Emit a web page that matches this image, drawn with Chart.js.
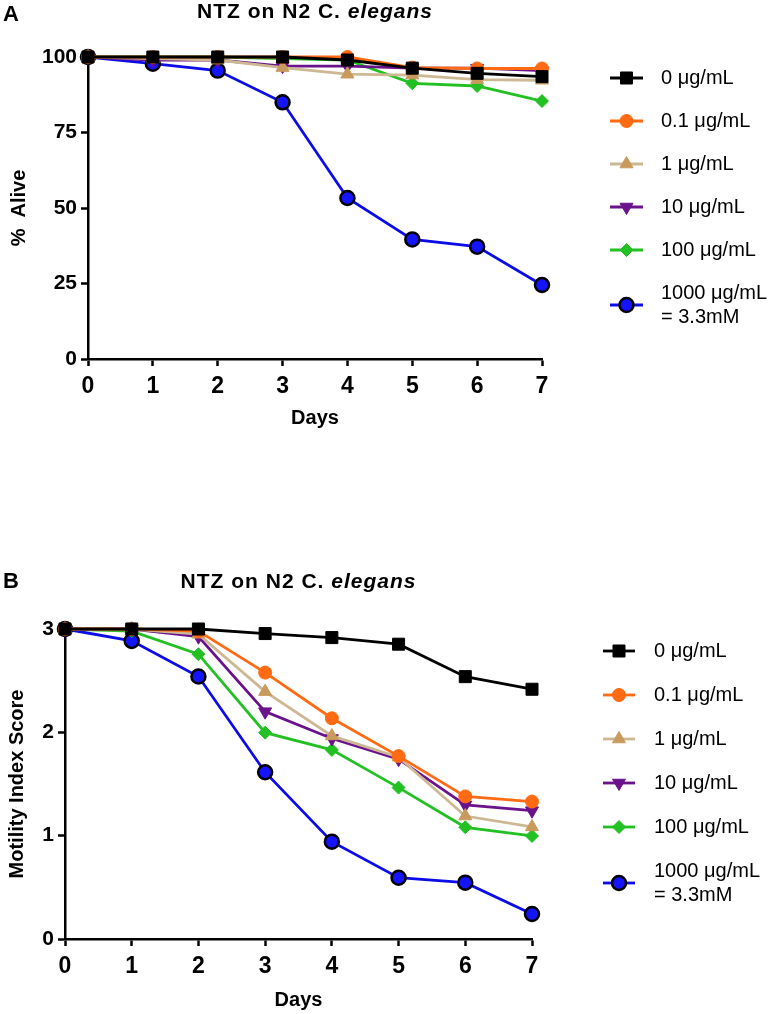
<!DOCTYPE html>
<html>
<head>
<meta charset="utf-8">
<script src="https://cdn.jsdelivr.net/npm/chart.js@4.4.0/dist/chart.umd.min.js"></script>
<style>
  html, body { margin: 0; padding: 0; background: #fff; }
  .panel { position: absolute; left: 0; width: 771px; height: 507px; }
  #panelA { top: 0; }
  #panelB { top: 507px; }
  canvas { display: block; }
</style>
</head>
<body>
<div class="panel" id="panelA"><canvas id="aliveChart" width="771" height="507"></canvas></div>
<div class="panel" id="panelB"><canvas id="motilityChart" width="771" height="507"></canvas></div>
<script>
// Days of exposure (x axis)
var days = [0, 1, 2, 3, 4, 5, 6, 7];

// Legend text for each NTZ concentration
var doseLabels = [['0 μg/mL'], ['0.1 μg/mL'], ['1 μg/mL'], ['10 μg/mL'], ['100 μg/mL'], ['1000 μg/mL', '= 3.3mM']];

// Panel A - % alive
var alive0    = [100, 100, 100, 100, 99, 96.3, 94.6, 93.5];
var alive01   = [100, 100, 100, 100, 100, 96.5, 96.2, 96.2];
var alive1    = [100, 99.5, 99, 96.5, 94.3, 94, 92.5, 92.3];
var alive10   = [100, 99, 99, 97, 97, 96.3, 96.3, 95.5];
var alive100  = [100, 100, 100, 99.5, 99, 91.3, 90.4, 85.4];
var alive1000 = [100, 97.8, 95.5, 85, 53.3, 39.6, 37.2, 24.5];

// Panel B - motility index score
var motility0    = [3, 3, 3, 2.956, 2.917, 2.853, 2.539, 2.417];
var motility01   = [3, 3, 2.98, 2.578, 2.136, 1.77, 1.38, 1.33];
var motility1    = [3, 3, 2.95, 2.394, 1.965, 1.76, 1.19, 1.085];
var motility10   = [3, 3, 2.926, 2.2, 1.94, 1.74, 1.297, 1.242];
var motility100  = [3, 2.98, 2.756, 1.997, 1.83, 1.465, 1.081, 0.997];
var motility1000 = [3, 2.885, 2.54, 1.614, 0.942, 0.593, 0.545, 0.242];

var aliveTicks = [0, 25, 50, 75, 100];
var motilityTicks = [0, 1, 2, 3];

Chart.defaults.font.family = '"Liberation Sans", Arial, Helvetica, sans-serif';
Chart.defaults.color = '#000';

// Look of each series, in legend order
var seriesStyles = [
    { line: '#000000', fill: '#000000', edge: '#000000', shape: 'rect', radius: 8.5, rot: 0, edgeWidth: 1 },
    { line: '#ff6a13', fill: '#ff6a13', edge: '#ff6a13', shape: 'circle', radius: 6.5, rot: 0, edgeWidth: 1 },
    { line: '#cdb893', fill: '#c89a5c', edge: '#c89a5c', shape: 'triangle', radius: 7.5, rot: 0, edgeWidth: 1 },
    { line: '#6a118c', fill: '#6a118c', edge: '#6a118c', shape: 'triangle', radius: 7.5, rot: 180, edgeWidth: 1 },
    { line: '#22c022', fill: '#22c022', edge: '#22c022', shape: 'rectRot', radius: 6.5, rot: 0, edgeWidth: 1 },
    { line: '#0c0ce8', fill: '#1414ff', edge: '#000000', shape: 'circle', radius: 7, rot: 0, edgeWidth: 2.5 }
];

function buildDatasets(seriesList) {
    var datasets = [];
    seriesList.forEach(function (values, i) {
        var st = seriesStyles[i];
        datasets.push({
            label: doseLabels[i].join(' '),
            legendLines: doseLabels[i],
            data: values,
            borderColor: st.line,
            borderWidth: 2.8,
            backgroundColor: st.fill,
            pointBackgroundColor: st.fill,
            pointBorderColor: st.edge,
            pointBorderWidth: st.edgeWidth,
            pointStyle: st.shape,
            pointRadius: st.radius,
            pointRotation: st.rot,
            tension: 0,
            clip: false
        });
    });
    return datasets;
}

// Legend at the right: a short line with the marker on it, then the text
var sideLegend = {
    id: 'sideLegend',
    afterDraw: function (chart, args, opts) {
        var ctx = chart.ctx;
        var top = opts.top;
        ctx.save();
        chart.data.datasets.forEach(function (ds) {
            var lines = ds.legendLines;
            var h = opts.rowGap + (lines.length - 1) * opts.lineHeight;
            var cy = top + h / 2;
            ctx.strokeStyle = ds.borderColor;
            ctx.lineWidth = ds.borderWidth;
            ctx.beginPath();
            ctx.moveTo(opts.lineStart, cy);
            ctx.lineTo(opts.lineEnd, cy);
            ctx.stroke();
            ctx.fillStyle = ds.pointBackgroundColor;
            ctx.strokeStyle = ds.pointBorderColor;
            ctx.lineWidth = ds.pointBorderWidth;
            Chart.helpers.drawPoint(ctx, {
                pointStyle: ds.pointStyle,
                radius: ds.pointRadius,
                rotation: ds.pointRotation,
                borderWidth: ds.pointBorderWidth
            }, (opts.lineStart + opts.lineEnd) / 2, cy);
            ctx.fillStyle = '#000';
            ctx.font = opts.font;
            ctx.textAlign = 'left';
            ctx.textBaseline = 'middle';
            lines.forEach(function (txt, k) {
                ctx.fillText(txt, opts.textX, cy - (lines.length - 1) * opts.lineHeight / 2 + k * opts.lineHeight);
            });
            top += h;
        });
        ctx.restore();
    }
};

// Panel letter and the title with italic species name
var panelTitle = {
    id: 'panelTitle',
    afterDraw: function (chart, args, opts) {
        var ctx = chart.ctx;
        var area = chart.chartArea;
        ctx.save();
        ctx.fillStyle = '#000';
        ctx.textBaseline = 'middle';
        ctx.textAlign = 'left';
        ctx.font = 'bold 22px "Liberation Sans", Arial, sans-serif';
        ctx.fillText(opts.letter, 3, opts.letterY);
        var plain = 'NTZ on N2 C. ';
        var italic = 'elegans';
        var plainFont = 'bold 21px "Liberation Sans", Arial, sans-serif';
        var italicFont = 'italic bold 21px "Liberation Sans", Arial, sans-serif';
        ctx.letterSpacing = '1px';
        ctx.font = plainFont;
        var w1 = ctx.measureText(plain).width;
        ctx.font = italicFont;
        var w2 = ctx.measureText(italic).width;
        var x = (area.left + area.right) / 2 - (w1 + w2) / 2;
        ctx.font = plainFont;
        ctx.fillText(plain, x, opts.titleY);
        ctx.font = italicFont;
        ctx.fillText(italic, x + w1, opts.titleY);
        ctx.restore();
    }
};

function axisScales(cfg) {
    var axisLine = { display: true, color: '#000', width: 2.5 };
    var tickGrid = { display: true, drawOnChartArea: false, drawTicks: true, tickLength: 7, tickWidth: 2.5, color: '#000' };
    return {
        x: {
            type: 'category',
            offset: false,
            border: axisLine,
            grid: tickGrid,
            ticks: {
                padding: cfg.xTickPad,
                autoSkip: false,
                maxRotation: 0,
                font: { size: 23, weight: 'bold' }
            },
            title: {
                display: true,
                text: 'Days',
                font: { size: 20, weight: 'bold' },
                padding: { top: 0, bottom: cfg.xTitlePad }
            },
            afterFit: function (scale) { scale.height = cfg.xHeight; }
        },
        y: {
            min: cfg.yMin,
            max: cfg.yMax,
            border: axisLine,
            grid: tickGrid,
            afterBuildTicks: function (scale) {
                scale.ticks = cfg.yTicks.map(function (v) { return { value: v }; });
            },
            ticks: {
                padding: 4,
                font: { size: 21, weight: 'bold' }
            },
            title: {
                display: true,
                text: cfg.yTitle,
                font: { size: 20, weight: 'bold' },
                padding: { top: cfg.yTitlePad, bottom: 0 }
            },
            afterFit: function (scale) { scale.width = cfg.yWidth; }
        }
    };
}

function makeChart(canvasId, seriesList, cfg) {
    return new Chart(document.getElementById(canvasId), {
        type: 'line',
        data: {
            labels: days,
            datasets: buildDatasets(seriesList)
        },
        options: {
            responsive: false,
            animation: false,
            layout: { padding: cfg.padding },
            plugins: {
                legend: { display: false },
                tooltip: { enabled: false },
                sideLegend: cfg.legend,
                panelTitle: cfg.title
            },
            scales: axisScales(cfg)
        },
        plugins: [sideLegend, panelTitle]
    });
}

makeChart('aliveChart', [alive0, alive01, alive1, alive10, alive100, alive1000], {
    padding: { left: 0, right: 229, top: 57, bottom: 71 },
    yWidth: 88, xHeight: 77, xTickPad: 7, xTitlePad: 6, yTitlePad: 7,
    yMin: 0, yMax: 100, yTicks: aliveTicks, yTitle: '%  Alive',
    legend: { top: 56.5, rowGap: 43, lineHeight: 24, lineStart: 610, lineEnd: 643, textX: 661, font: '20px "Liberation Sans", Arial, sans-serif' },
    title: { letter: 'A', letterY: 15, titleY: 12 }
});

makeChart('motilityChart', [motility0, motility01, motility1, motility10, motility100, motility1000], {
    padding: { left: 0, right: 239, top: 122, bottom: 0 },
    yWidth: 65, xHeight: 75, xTickPad: 7, xTitlePad: 2, yTitlePad: 5,
    yMin: 0, yMax: 3, yTicks: motilityTicks, yTitle: 'Motility Index Score',
    legend: { top: 122, rowGap: 44, lineHeight: 24, lineStart: 603, lineEnd: 635, textX: 654, font: '20px "Liberation Sans", Arial, sans-serif' },
    title: { letter: 'B', letterY: 75, titleY: 75 }
});
</script>
</body>
</html>
